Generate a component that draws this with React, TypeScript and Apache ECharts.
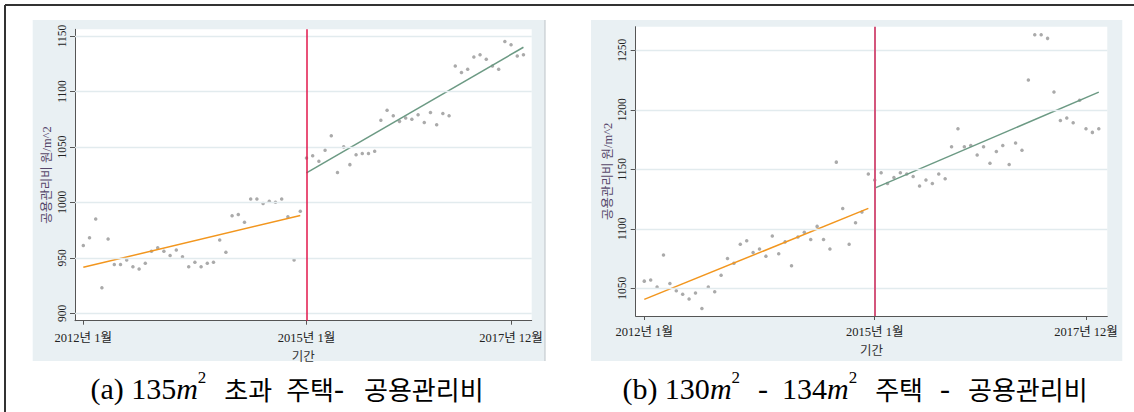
import { useEffect, useRef } from 'react';
import * as echarts from 'echarts';

// Month index 0 = 2012-01, 71 = 2017-12; policy break at 2015-01.
const monthTicks = [0, 36, 69];
const monthTickLabels = ['2012년 1월', '2015년 1월', '2017년 12월'];
const breakMonth = 36;
const monthRange = [-1.34, 72.33];

// (a) houses over 135 m^2 — common management fee (원/m^2)
const feeOver135 = [
  961, 968, 985, 923, 967, 944, 944, 948, 942, 940, 945, 956,
  959, 956, 952, 957, 951, 942, 946, 942, 945, 946, 966, 955,
  988, 989, 982, 1003, 1003, 999, 1001, 1000, 1003, 987, 948, 992,
  1040, 1042, 1037, 1047, 1060, 1027, 1050, 1034, 1043, 1044, 1044, 1046,
  1074, 1083, 1078, 1073, 1076, 1075, 1079, 1072, 1081, 1070, 1080, 1078,
  1123, 1117, 1120, 1131, 1133, 1129, 1123, 1120, 1145, 1142, 1132, 1133,
];
const fitOver135Before = [941.4, 988.2];
const fitOver135After = [1026.5, 1139.8];
const yTicksOver135 = [900, 950, 1000, 1050, 1100, 1150];
const yRangeOver135 = [893.3, 1156];

// (b) houses of 130–134 m^2 — common management fee (원/m^2)
const fee130to134 = [
  1056, 1057, 1051, 1078, 1054, 1048, 1045, 1041, 1046, 1033, 1051, 1047,
  1061, 1075, 1071, 1087, 1090, 1080, 1083, 1077, 1094, 1079, 1089, 1069,
  1093, 1097, 1091, 1102, 1091, 1083, 1156, 1117, 1087, 1105, 1114, 1146,
  1141, 1147, 1138, 1143, 1147, 1146, 1144, 1136, 1141, 1138, 1146, 1142,
  1169, 1184, 1169, 1170, 1162, 1169, 1155, 1165, 1170, 1154, 1172, 1166,
  1225, 1263, 1263, 1260, 1215, 1191, 1193, 1189, 1208, 1184, 1181, 1184,
];
const fit130Before = [1040.7, 1117.1];
const fit130After = [1134.2, 1214.8];
const yTicks130 = [1050, 1100, 1150, 1200, 1250];
const yRange130 = [1026.7, 1269.8];

const yTitle = '공용관리비 원/m^2';
const xTitle = '기간';

const serif = "'Liberation Serif', 'Noto Sans CJK KR', serif";
const kfont = "'Noto Sans CJK KR', sans-serif";

const toPoints = (values: number[]) => values.map((v, i) => [i, v]);
const segment = (ends: number[], from: number, to: number) => [
  [from, ends[0]],
  [to, ends[1]],
];

const panels = [
  {
    values: feeOver135,
    before: fitOver135Before,
    after: fitOver135After,
    yTicks: yTicksOver135,
    yRange: yRangeOver135,
    grid: { left: 75, top: 29.3, width: 456.7, height: 291.4 },
    breakColor: '#e2174b',
    breakWidth: 1.5,
    labelMargin: 11,
  },
  {
    values: fee130to134,
    before: fit130Before,
    after: fit130After,
    yTicks: yTicks130,
    yRange: yRange130,
    grid: { left: 635.7, top: 26.7, width: 471.6, height: 289.3 },
    breakColor: '#d4567c',
    breakWidth: 2,
    labelMargin: 10,
  },
];

function buildOption() {
  const grids: any[] = [];
  const xAxes: any[] = [];
  const yAxes: any[] = [];
  const series: any[] = [];

  panels.forEach((p, i) => {
    const last = p.values.length - 1;
    grids.push({
      ...p.grid,
      show: true,
      backgroundColor: '#ffffff',
      borderWidth: 0,
      containLabel: false,
      outerBoundsMode: 'none',
    });
    xAxes.push({
      gridIndex: i,
      type: 'value',
      min: monthRange[0],
      max: monthRange[1],
      axisLine: { show: true, onZero: false, lineStyle: { color: '#555', width: 1 } },
      axisTick: {
        show: true,
        length: 4,
        customValues: monthTicks,
        lineStyle: { color: '#555', width: 1 },
      },
      axisLabel: {
        customValues: monthTicks,
        formatter: (v: number) => monthTickLabels[monthTicks.indexOf(v)] ?? '',
        fontFamily: serif,
        fontSize: 12.5,
        color: '#222',
        margin: p.labelMargin,
      },
      splitLine: { show: false },
      name: xTitle,
      nameLocation: 'middle',
      nameGap: 21,
      nameTextStyle: { fontFamily: kfont, fontSize: 12.5, color: '#333' },
    });
    yAxes.push({
      gridIndex: i,
      type: 'value',
      min: p.yRange[0],
      max: p.yRange[1],
      axisLine: { show: true, onZero: false, lineStyle: { color: '#555', width: 1 } },
      axisTick: {
        show: true,
        length: 5,
        customValues: p.yTicks,
        lineStyle: { color: '#555', width: 1 },
      },
      axisLabel: {
        customValues: p.yTicks,
        formatter: (v: number) => String(v),
        rotate: 90,
        fontFamily: serif,
        fontSize: 11.5,
        color: '#222',
        margin: 7.5,
      },
      splitLine: { show: false },
      name: yTitle,
      nameLocation: 'middle',
      nameGap: 21.7,
      nameTextStyle: { fontFamily: serif, fontSize: 12.5, color: '#56476a' },
    });

    // horizontal gridlines at the labelled ticks
    series.push({
      type: 'line',
      xAxisIndex: i,
      yAxisIndex: i,
      data: [],
      silent: true,
      z: 1,
      markLine: {
        silent: true,
        symbol: ['none', 'none'],
        label: { show: false },
        lineStyle: { color: '#e2ebee', width: 1.3, type: 'solid' },
        data: p.yTicks.map((v) => ({ yAxis: v })),
      },
    });
    // monthly observations with the break line
    series.push({
      type: 'scatter',
      xAxisIndex: i,
      yAxisIndex: i,
      data: toPoints(p.values),
      symbol: 'circle',
      symbolSize: 3.5,
      itemStyle: { color: '#959595' },
      z: 2,
      markLine: {
        silent: true,
        symbol: ['none', 'none'],
        label: { show: false },
        lineStyle: { color: p.breakColor, width: p.breakWidth, type: 'solid' },
        data: [{ xAxis: breakMonth }],
      },
    });
    // linear fits before and after the break
    series.push({
      type: 'line',
      xAxisIndex: i,
      yAxisIndex: i,
      data: segment(p.before, 0, breakMonth - 1),
      symbol: 'none',
      lineStyle: { color: '#f2961e', width: 1.5 },
      z: 3,
    });
    series.push({
      type: 'line',
      xAxisIndex: i,
      yAxisIndex: i,
      data: segment(p.after, breakMonth, last),
      symbol: 'none',
      lineStyle: { color: '#6c9a84', width: 1.5 },
      z: 3,
    });
  });

  const lat = { fontFamily: serif, fontSize: 30, color: '#111', lineHeight: 38 };
  const kor = { fontFamily: kfont, fontSize: 26, color: '#111', lineHeight: 38 };
  const captionRich: any = {
    r: { ...lat },
    r14: { ...lat, padding: [0, 0, 0, 14] },
    r17: { ...lat, padding: [0, 0, 0, 17] },
    r18: { ...lat, padding: [0, 0, 0, 18] },
    i: { ...lat, fontStyle: 'italic' },
    sup: { fontFamily: serif, fontSize: 17, color: '#111', lineHeight: 22, verticalAlign: 'top' },
    k14: { ...kor, padding: [0, 0, 0, 14] },
    k18: { ...kor, padding: [0, 0, 0, 18] },
    k20: { ...kor, padding: [0, 0, 0, 20] },
  };

  const graphic = [
    {
      type: 'rect',
      z: -10,
      silent: true,
      shape: { x: 32.7, y: 20, width: 512.3, height: 341 },
      style: { fill: '#e9f0f3' },
    },
    {
      type: 'line',
      z: -9,
      silent: true,
      shape: { x1: 545, y1: 20, x2: 545, y2: 361 },
      style: { stroke: '#bcc3c7', lineWidth: 1 },
    },
    {
      type: 'rect',
      z: -10,
      silent: true,
      shape: { x: 591, y: 20, width: 531.3, height: 341 },
      style: { fill: '#e9f0f3' },
    },
    {
      type: 'line',
      silent: true,
      shape: { x1: 5, y1: 5, x2: 1134, y2: 5 },
      style: { stroke: '#333', lineWidth: 2 },
    },
    {
      type: 'line',
      silent: true,
      shape: { x1: 5, y1: 5, x2: 5, y2: 412 },
      style: { stroke: '#333', lineWidth: 2 },
    },
    {
      type: 'text',
      x: 287,
      y: 388,
      silent: true,
      style: {
        text: '{r|(a) 135}{i|m}{sup|2}{k18|초과}{k14|주택}{r|-}{k20|공용관리비}',
        rich: captionRich,
        align: 'center',
        verticalAlign: 'middle',
      },
    },
    {
      type: 'text',
      x: 855,
      y: 388,
      silent: true,
      style: {
        text: '{r|(b) 130}{i|m}{sup|2}{r18|-}{r14|134}{i|m}{sup|2}{k18|주택}{r17|-}{k18|공용관리비}',
        rich: captionRich,
        align: 'center',
        verticalAlign: 'middle',
      },
    },
  ];

  return {
    animation: false,
    backgroundColor: '#ffffff',
    grid: grids,
    xAxis: xAxes,
    yAxis: yAxes,
    series,
    graphic,
  };
}

export default function App() {
  const ref = useRef<HTMLDivElement>(null);

  useEffect(() => {
    if (!ref.current) return;
    const chart = echarts.init(ref.current, undefined, { renderer: 'svg' });
    chart.setOption(buildOption() as any);
    return () => chart.dispose();
  }, []);

  return (
    <div
      ref={ref}
      style={{ position: 'fixed', left: 0, top: 0, width: 1134, height: 412 }}
    />
  );
}
